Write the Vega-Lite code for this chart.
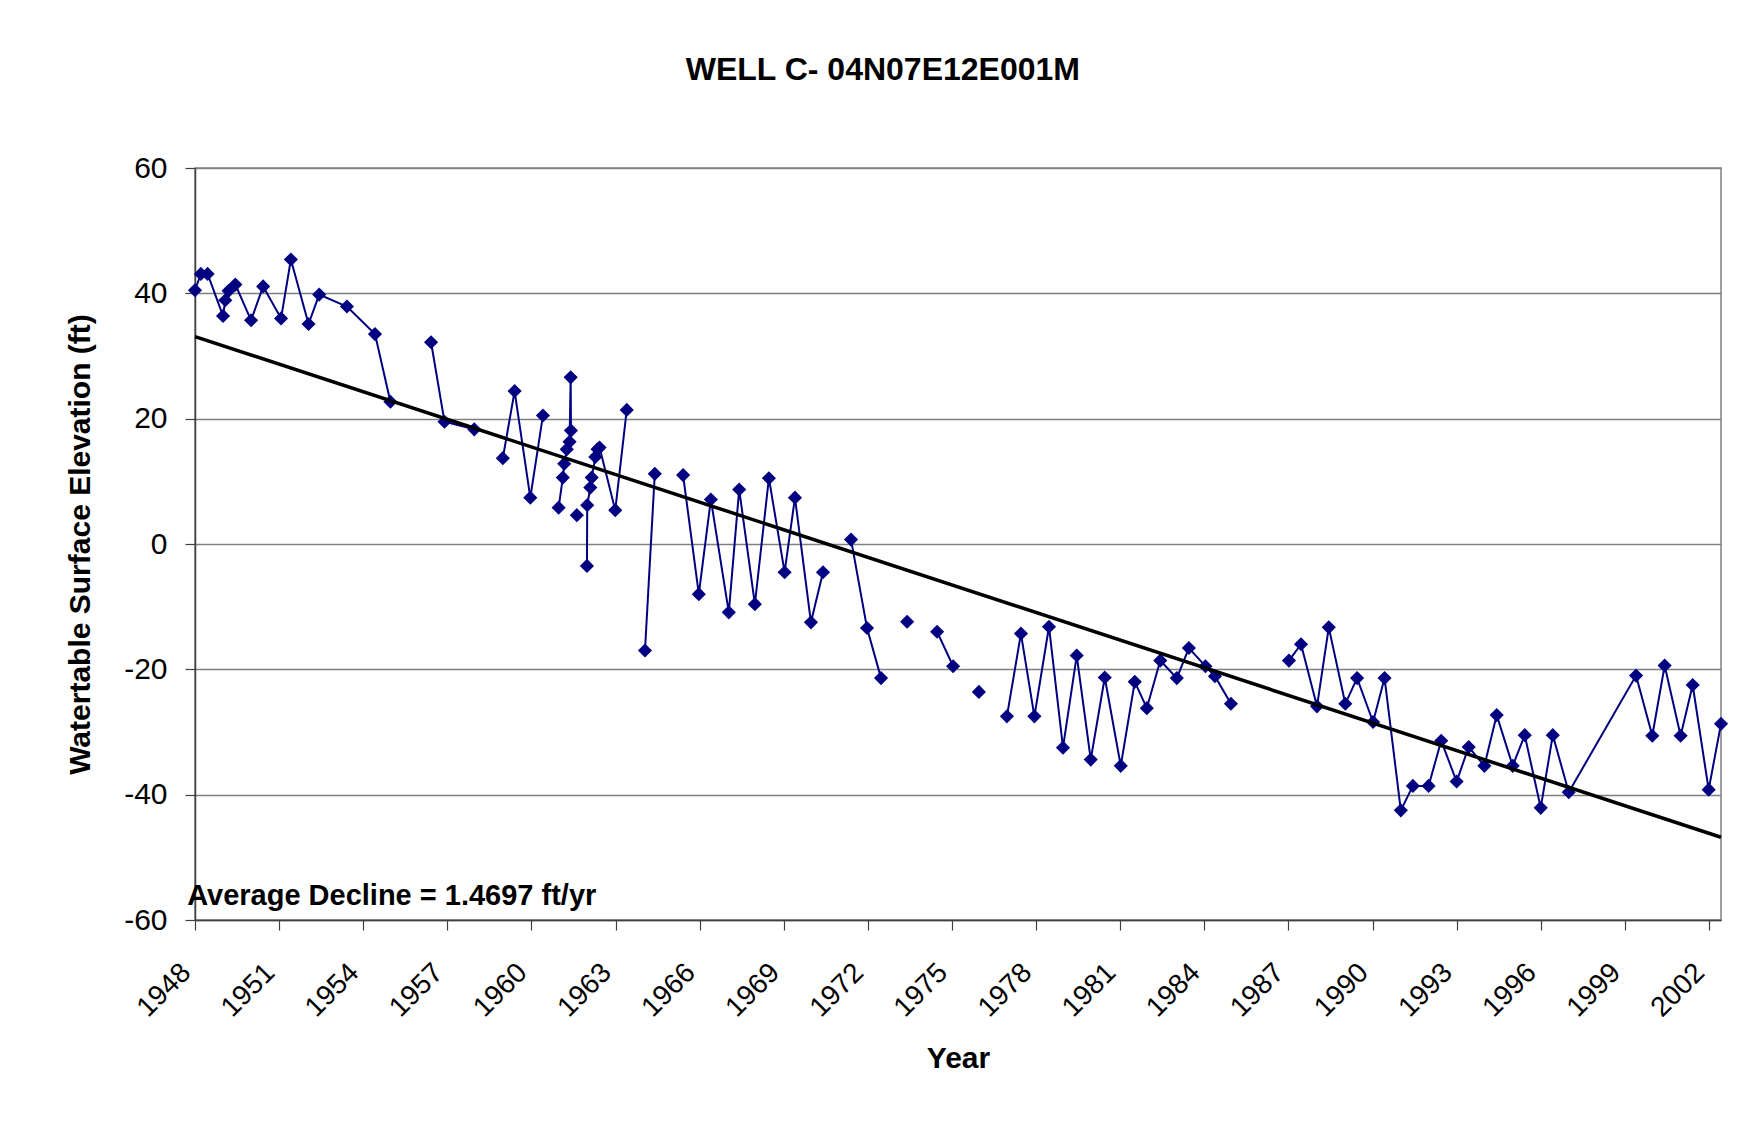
{
  "$schema": "https://vega.github.io/schema/vega-lite/v6.json",
  "width": 1526,
  "height": 752,
  "autosize": {"type": "none"},
  "padding": {"left": 195, "top": 168, "right": 35, "bottom": 203},
  "background": "white",
  "config": {
    "font": "Liberation Sans",
    "view": {"stroke": "#808080", "strokeWidth": 1.5},
    "axis": {"labelColor": "black", "titleColor": "black", "domainColor": "#404040", "tickColor": "#404040", "domainWidth": 1.5, "tickWidth": 1.2}
  },
  "title": {
    "text": "WELL C- 04N07E12E001M",
    "fontSize": 32,
    "fontWeight": "bold",
    "font": "Liberation Sans",
    "anchor": "middle",
    "frame": "bounds",
    "offset": 66,
    "dx": -14,
    "color": "black"
  },
  "datasets": {
    "obs": [
      {"year": 1948.00, "val": 40.5, "seg": 1},
      {"year": 1948.21, "val": 43.1, "seg": 1},
      {"year": 1948.45, "val": 43.1, "seg": 1},
      {"year": 1949.00, "val": 36.4, "seg": 1},
      {"year": 1949.08, "val": 38.9, "seg": 1},
      {"year": 1949.20, "val": 40.4, "seg": 1},
      {"year": 1949.44, "val": 41.4, "seg": 1},
      {"year": 1950.00, "val": 35.7, "seg": 1},
      {"year": 1950.43, "val": 41.1, "seg": 1},
      {"year": 1951.07, "val": 36.0, "seg": 1},
      {"year": 1951.42, "val": 45.4, "seg": 1},
      {"year": 1952.05, "val": 35.1, "seg": 1},
      {"year": 1952.43, "val": 39.8, "seg": 1},
      {"year": 1953.42, "val": 37.9, "seg": 1},
      {"year": 1954.42, "val": 33.5, "seg": 1},
      {"year": 1954.97, "val": 22.7, "seg": 1},
      {"year": 1956.42, "val": 32.2, "seg": 2},
      {"year": 1956.90, "val": 19.5, "seg": 2},
      {"year": 1957.96, "val": 18.3, "seg": 2},
      {"year": 1958.98, "val": 13.7, "seg": 3},
      {"year": 1959.40, "val": 24.4, "seg": 3},
      {"year": 1959.96, "val": 7.4, "seg": 3},
      {"year": 1960.41, "val": 20.5, "seg": 3},
      {"year": 1960.97, "val": 5.8, "seg": 4},
      {"year": 1961.12, "val": 10.6, "seg": 4},
      {"year": 1961.17, "val": 12.8, "seg": 4},
      {"year": 1961.26, "val": 15.1, "seg": 4},
      {"year": 1961.36, "val": 16.3, "seg": 4},
      {"year": 1961.40, "val": 26.6, "seg": 4},
      {"year": 1961.41, "val": 18.1, "seg": 4},
      {"year": 1961.62, "val": 4.6, "seg": 5},
      {"year": 1961.98, "val": -3.5, "seg": 6},
      {"year": 1961.99, "val": 6.2, "seg": 6},
      {"year": 1962.10, "val": 9.0, "seg": 6},
      {"year": 1962.15, "val": 10.6, "seg": 6},
      {"year": 1962.28, "val": 13.9, "seg": 6},
      {"year": 1962.36, "val": 15.1, "seg": 6},
      {"year": 1962.43, "val": 15.4, "seg": 6},
      {"year": 1962.99, "val": 5.4, "seg": 6},
      {"year": 1963.40, "val": 21.4, "seg": 6},
      {"year": 1964.05, "val": -17.0, "seg": 7},
      {"year": 1964.40, "val": 11.2, "seg": 7},
      {"year": 1965.41, "val": 11.0, "seg": 8},
      {"year": 1965.97, "val": -8.0, "seg": 8},
      {"year": 1966.40, "val": 7.1, "seg": 8},
      {"year": 1967.04, "val": -10.9, "seg": 8},
      {"year": 1967.41, "val": 8.7, "seg": 8},
      {"year": 1967.97, "val": -9.6, "seg": 8},
      {"year": 1968.47, "val": 10.5, "seg": 8},
      {"year": 1969.03, "val": -4.5, "seg": 8},
      {"year": 1969.40, "val": 7.4, "seg": 8},
      {"year": 1969.97, "val": -12.5, "seg": 8},
      {"year": 1970.40, "val": -4.5, "seg": 8},
      {"year": 1971.40, "val": 0.7, "seg": 9},
      {"year": 1971.97, "val": -13.4, "seg": 9},
      {"year": 1972.47, "val": -21.4, "seg": 9},
      {"year": 1973.40, "val": -12.4, "seg": 10},
      {"year": 1974.47, "val": -14.0, "seg": 11},
      {"year": 1975.04, "val": -19.5, "seg": 11},
      {"year": 1975.96, "val": -23.6, "seg": 12},
      {"year": 1976.96, "val": -27.5, "seg": 13},
      {"year": 1977.46, "val": -14.3, "seg": 13},
      {"year": 1977.94, "val": -27.5, "seg": 13},
      {"year": 1978.46, "val": -13.2, "seg": 13},
      {"year": 1978.96, "val": -32.5, "seg": 13},
      {"year": 1979.45, "val": -17.8, "seg": 13},
      {"year": 1979.95, "val": -34.4, "seg": 13},
      {"year": 1980.45, "val": -21.3, "seg": 13},
      {"year": 1981.02, "val": -35.4, "seg": 13},
      {"year": 1981.52, "val": -22.0, "seg": 13},
      {"year": 1981.95, "val": -26.2, "seg": 13},
      {"year": 1982.43, "val": -18.6, "seg": 13},
      {"year": 1983.02, "val": -21.4, "seg": 13},
      {"year": 1983.45, "val": -16.6, "seg": 13},
      {"year": 1984.04, "val": -19.5, "seg": 13},
      {"year": 1984.38, "val": -21.1, "seg": 13},
      {"year": 1984.95, "val": -25.5, "seg": 13},
      {"year": 1987.02, "val": -18.6, "seg": 14},
      {"year": 1987.45, "val": -16.0, "seg": 14},
      {"year": 1988.02, "val": -25.9, "seg": 14},
      {"year": 1988.44, "val": -13.3, "seg": 14},
      {"year": 1989.03, "val": -25.5, "seg": 14},
      {"year": 1989.45, "val": -21.4, "seg": 14},
      {"year": 1990.02, "val": -28.4, "seg": 14},
      {"year": 1990.43, "val": -21.4, "seg": 14},
      {"year": 1991.01, "val": -42.5, "seg": 14},
      {"year": 1991.44, "val": -38.6, "seg": 14},
      {"year": 1992.00, "val": -38.6, "seg": 14},
      {"year": 1992.45, "val": -31.4, "seg": 14},
      {"year": 1993.00, "val": -37.9, "seg": 14},
      {"year": 1993.43, "val": -32.4, "seg": 14},
      {"year": 1993.99, "val": -35.4, "seg": 14},
      {"year": 1994.43, "val": -27.3, "seg": 14},
      {"year": 1995.00, "val": -35.4, "seg": 14},
      {"year": 1995.43, "val": -30.5, "seg": 14},
      {"year": 1996.00, "val": -42.1, "seg": 14},
      {"year": 1996.43, "val": -30.5, "seg": 14},
      {"year": 1997.00, "val": -39.6, "seg": 14},
      {"year": 1999.40, "val": -21.0, "seg": 14},
      {"year": 1999.98, "val": -30.6, "seg": 14},
      {"year": 2000.42, "val": -19.4, "seg": 14},
      {"year": 2000.99, "val": -30.6, "seg": 14},
      {"year": 2001.42, "val": -22.5, "seg": 14},
      {"year": 2001.99, "val": -39.2, "seg": 14},
      {"year": 2002.43, "val": -28.7, "seg": 14}
    ],
    "trend": [
      {"year": 1948.00, "val": 33.1},
      {"year": 2002.43, "val": -46.8}
    ],
    "note": [
      {"year": 1947.72, "val": -56.2, "label": "Average Decline = 1.4697 ft/yr"}
    ]
  },
  "encoding": {
    "x": {
      "field": "year",
      "type": "quantitative",
      "scale": {"domain": [1948, 2002.43], "nice": false, "zero": false},
      "axis": {
        "title": "Year",
        "titleFontSize": 30,
        "titleFontWeight": "bold",
        "titlePadding": 22,
        "values": [1948, 1951, 1954, 1957, 1960, 1963, 1966, 1969, 1972, 1975, 1978, 1981, 1984, 1987, 1990, 1993, 1996, 1999, 2002],
        "labelExpr": "'' + datum.value",
        "labelAngle": -45,
        "labelAlign": "right",
        "labelBaseline": "middle",
        "labelFontSize": 28,
        "labelPadding": 38,
        "labelOffset": -9,
        "labelOverlap": false,
        "labelFlush": false,
        "tickSize": 10,
        "grid": false
      }
    },
    "y": {
      "field": "val",
      "type": "quantitative",
      "scale": {"domain": [-60, 60], "nice": false},
      "axis": {
        "title": "Watertable Surface Elevation (ft)",
        "titleFontSize": 30,
        "titleFontWeight": "bold",
        "titlePadding": 28,
        "values": [-60, -40, -20, 0, 20, 40, 60],
        "labelExpr": "'' + datum.value",
        "labelFontSize": 30,
        "labelPadding": 18,
        "tickSize": 10,
        "grid": true,
        "gridColor": "#808080",
        "gridWidth": 1.5
      }
    }
  },
  "layer": [
    {
      "data": {"name": "obs"},
      "mark": {"type": "line", "color": "#000080", "strokeWidth": 2},
      "encoding": {"detail": {"field": "seg", "type": "nominal"}}
    },
    {
      "data": {"name": "obs"},
      "mark": {"type": "point", "shape": "diamond", "filled": true, "size": 200, "color": "#000080", "opacity": 1}
    },
    {
      "data": {"name": "trend"},
      "mark": {"type": "line", "color": "black", "strokeWidth": 3.5}
    },
    {
      "data": {"name": "note"},
      "mark": {"type": "text", "align": "left", "baseline": "middle", "fontSize": 29, "fontWeight": "bold", "font": "Liberation Sans", "color": "black"},
      "encoding": {"text": {"field": "label", "type": "nominal"}}
    }
  ]
}
